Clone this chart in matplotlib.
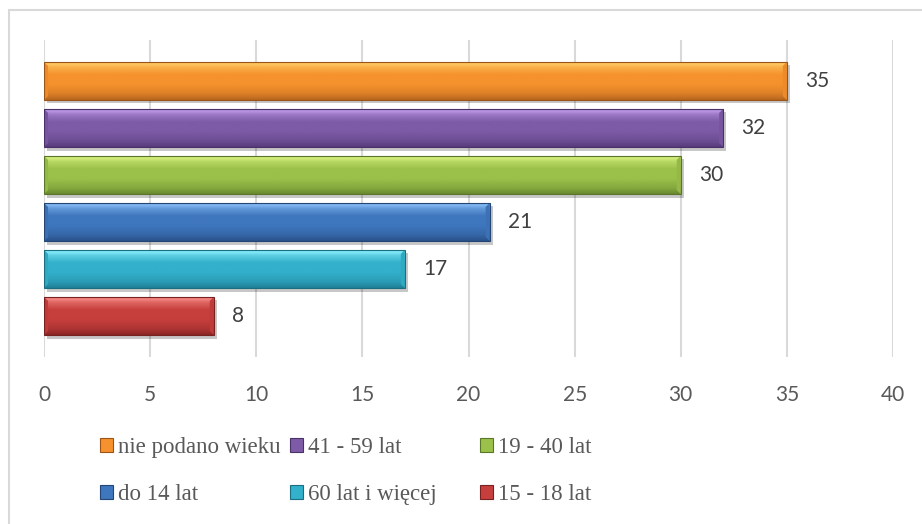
import numpy as np
import matplotlib
matplotlib.use("Agg")
import matplotlib.pyplot as plt
import matplotlib.patheffects as pe
from matplotlib.colors import to_rgb
from matplotlib.patches import Rectangle, Patch, Polygon

# ---- data ----
categories = ["nie podano wieku", "41 - 59 lat", "19 - 40 lat",
              "do 14 lat", "60 lat i więcej", "15 - 18 lat"]
values = [35, 32, 30, 21, 17, 8]
base_colors = ["#F6922D", "#7D5BA6", "#9BC14A", "#3F77BE", "#33B0CB", "#C73F3D"]
light_colors = ["#FDCB63", "#BC98E6", "#D6F07F", "#86BCF5", "#86EDFA", "#F58A86"]
dark_colors = ["#B8661E", "#573C7C", "#6A8A30", "#2A528A", "#1F8198", "#8C2725"]
edge_colors = ["#9A5418", "#4A3168", "#5A7628", "#234675", "#1B6E80", "#772120"]
xticks = [0, 5, 10, 15, 20, 25, 30, 35, 40]

W, H = 922, 524
fig = plt.figure(figsize=(W / 100, H / 100), dpi=100)
fig.patch.set_facecolor("white")

# outer chart border (right/bottom edges lie outside the picture)
fig.patches.append(Rectangle((9 / W, -0.1), 1.2, 1 - 10 / H + 0.1,
                             transform=fig.transFigure, fill=False,
                             edgecolor="#D9D9D9", lw=1.5))

ax = fig.add_axes([44 / W, 1 - 357 / H, (893 - 44) / W, (357 - 40) / H])
ypos = np.arange(len(values))
h = 0.81

bars = ax.barh(ypos, values, height=h, color=base_colors, zorder=2,
               linewidth=0)
for b in bars:
    b.set_path_effects([pe.SimplePatchShadow(offset=(2, -2.5), alpha=0.22,
                                             shadow_rgbFace="#000000"),
                        pe.Normal()])

N = 64
stops = np.array([0.0, 0.06, 0.16, 0.35, 0.6, 0.85, 1.0])
bx, by = 0.19, 0.085  # bevel size (data units)
for i, (v, y) in enumerate(zip(values, ypos)):
    b0 = np.array(to_rgb(base_colors[i]))
    l0 = np.array(to_rgb(light_colors[i]))
    d0 = np.array(to_rgb(dark_colors[i]))
    cols = np.array([b0, l0, 0.5 * l0 + 0.5 * b0, b0, b0,
                     0.55 * b0 + 0.45 * d0, d0])
    t = np.linspace(0, 1, N)
    grad = np.stack([np.interp(t, stops, cols[:, k]) for k in range(3)],
                    axis=-1)[:, None, :]
    im = ax.imshow(grad, extent=[0, v, y + h / 2, y - h / 2],
                   aspect="auto", origin="upper", zorder=3,
                   interpolation="bilinear")
    im.set_clip_path(bars[i])
    top, bot = y - h / 2, y + h / 2
    cap = 0.85 * b0 + 0.15 * d0
    for x0, sgn in ((v, -1), (0, 1)):
        poly = Polygon([(x0, top), (x0, bot), (x0 + sgn * bx, bot - by),
                        (x0 + sgn * bx, top + by)], closed=True,
                       facecolor=cap, edgecolor="none", zorder=3.5)
        ax.add_patch(poly)

ax.barh(ypos, values, height=h, fill=False, edgecolor=edge_colors,
        linewidth=0.8, zorder=4)

for v, y in zip(values, ypos):
    ax.annotate(str(v), xy=(v, y), xytext=(18, 0), textcoords="offset pixels",
                ha="left", va="center", fontsize=15, family="Lato",
                color="#404040", zorder=5)

ax.set_xlim(0, 40)
ax.set_ylim(5 + 0.872, -0.872)
ax.set_xticks(xticks)
ax.set_xticklabels([str(x) for x in xticks], fontsize=15, family="Lato",
                   color="#595959")
ax.set_yticks([])
ax.tick_params(axis="x", length=0, pad=20)
for s in ax.spines.values():
    s.set_visible(False)
ax.xaxis.grid(True, color="#D9D9D9", lw=1.5)
ax.set_axisbelow(True)
ax.set_facecolor("none")

# legend: three fixed-width columns, filled row by row
col_x = [100, 290, 480]
for c in range(3):
    idx = [c, c + 3]
    handles = [Patch(facecolor=base_colors[k], edgecolor=edge_colors[k],
                     linewidth=0.8) for k in idx]
    leg = fig.legend(handles, [categories[k] for k in idx],
                     loc="center left",
                     bbox_to_anchor=(col_x[c] / W, 1 - 471 / H),
                     frameon=False, borderpad=0, borderaxespad=0,
                     handlelength=0.58, handleheight=0.58, handletextpad=0.2,
                     labelspacing=1.12,
                     prop={"family": "Liberation Serif", "size": 16.5})
    for tx in leg.get_texts():
        tx.set_color("#595959")

fig.savefig("out.png", dpi=100, facecolor="white")
